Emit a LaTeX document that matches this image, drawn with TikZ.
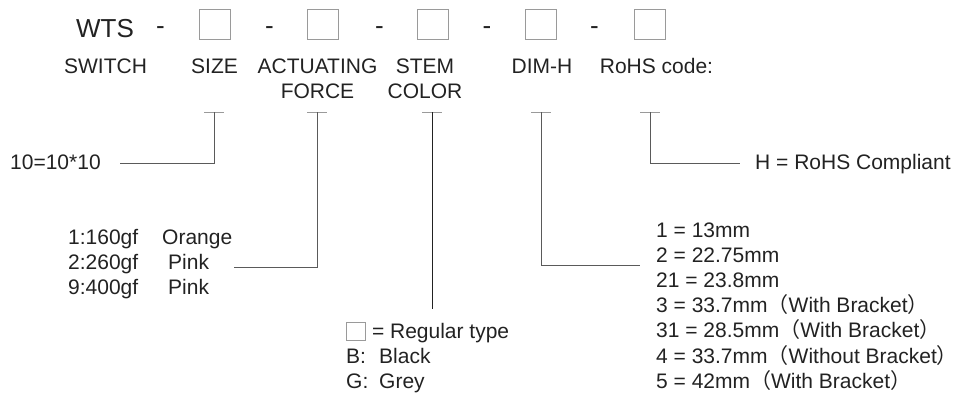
\documentclass[tikz,border=0pt]{standalone}
\usepackage{fontspec}
\setmainfont{Liberation Sans}
\newfontfamily\cjk{Noto Sans CJK SC}
\usetikzlibrary{positioning}
\definecolor{Ink}{HTML}{222222}
\definecolor{LeadGray}{HTML}{5A5A5A}
\definecolor{BoxGray}{HTML}{9A9A9A}
\newcommand{\fw}[1]{{\cjk #1}}
\newcommand{\blankbox}{\raisebox{-2pt}{\textcolor{BoxGray}{\setlength{\fboxsep}{0pt}\setlength{\fboxrule}{0.9pt}\fbox{\vrule width 0pt height 17.2pt\hspace{18.2pt}}}}}

\begin{document}
\begin{tikzpicture}[x=1pt,y=-1pt,
  txt/.style={inner sep=0pt,text=Ink,font=\fontsize{21}{25}\selectfont},
  part/.style={txt,font=\fontsize{26}{30}\selectfont,anchor=base},
  field/.style={draw=BoxGray,line width=1pt,minimum width=31pt,minimum height=30pt,inner sep=0pt},
  fieldname/.style={txt,anchor=base},
  opts/.style={txt,anchor=base west},
  lead/.style={draw=LeadGray,line width=1pt},
  tee/.style={draw=BoxGray,line width=1pt}
]
\useasboundingbox (0,0) rectangle (958,392);

% code line
\node[part] (series) at (105,37) {WTS};
\node[part] (dashA) at (160.5,34) {-};
\node[field] (sizeBox) at (214.5,24) {};
\node[part] (dashB) at (269.5,34) {-};
\node[field] (forceBox) at (323,24) {};
\node[part] (dashC) at (379.5,34) {-};
\node[field] (stemBox) at (433,24) {};
\node[part] (dashD) at (487,34) {-};
\node[field] (dimBox) at (541,24) {};
\node[part] (dashE) at (594.5,34) {-};
\node[field] (rohsBox) at (649.5,24) {};

% field names
\node[fieldname] (switchName) at (105.5,73) {SWITCH};
\node[fieldname] (sizeName) at (214.5,73) {SIZE};
\node[fieldname] (forceName) at (317.5,73) {\begin{tabular}[t]{@{}c@{}}ACTUATING\\FORCE\end{tabular}};
\node[fieldname] (stemName) at (425,73) {\begin{tabular}[t]{@{}c@{}}STEM\\COLOR\end{tabular}};
\node[fieldname] (dimName) at (542,73) {DIM-H};
\node[fieldname] (rohsName) at (656.5,73) {RoHS code:};

% options
\node[opts] (sizeVal) at (10,169) {10=10*10};
\node[opts] (forceVal) at (68,244) {\begin{tabular}[t]{@{}l@{}}
  \makebox[94pt][l]{1:160gf}Orange\\
  \makebox[100pt][l]{2:260gf}Pink\\
  \makebox[100pt][l]{9:400gf}Pink\end{tabular}};
\node[opts] (stemVal) at (346,338) {\begin{tabular}[t]{@{}l@{}}
  \blankbox{} = Regular type\\
  \makebox[33pt][l]{B:}Black\\
  \makebox[33pt][l]{G:}Grey\end{tabular}};
\node[opts] (dimVal) at (656,237) {\begin{tabular}[t]{@{}l@{}}
  1 = 13mm\\
  2 = 22.75mm\\
  21 = 23.8mm\\
  3 = 33.7mm\fw{（}With Bracket\fw{）}\\
  31 = 28.5mm\fw{（}With Bracket\fw{）}\\
  4 = 33.7mm\fw{（}Without Bracket\fw{）}\\
  5 = 42mm\fw{（}With Bracket\fw{）}\end{tabular}};
\node[opts] (rohsVal) at (755,169) {H = RoHS Compliant};

% tee marks
\coordinate (sizeT) at (214,112);
\coordinate (forceT) at (317,112);
\coordinate (stemT) at (432,112);
\coordinate (dimT) at (541,112);
\coordinate (rohsT) at (650,112);
\foreach \t in {sizeT,forceT,stemT,dimT,rohsT}
  \draw[tee] ([xshift=-10pt]\t) -- ([xshift=10pt]\t);

% leaders
\coordinate (stemTop) at ([yshift=11pt]stemVal.north);
\draw[lead] (sizeT) |- ([xshift=19pt,yshift=-1.5pt]sizeVal.east);
\draw[lead] (forceT) |- ([xshift=2pt,yshift=-23pt]forceVal.base east);
\draw[lead,draw=Ink] (stemT) -- (stemT |- stemTop);
\draw[lead] (dimT) |- ([xshift=-16pt,yshift=-28pt]dimVal.base west);
\draw[lead] (rohsT) |- ([xshift=-15pt]rohsVal.west);
\end{tikzpicture}
\end{document}
